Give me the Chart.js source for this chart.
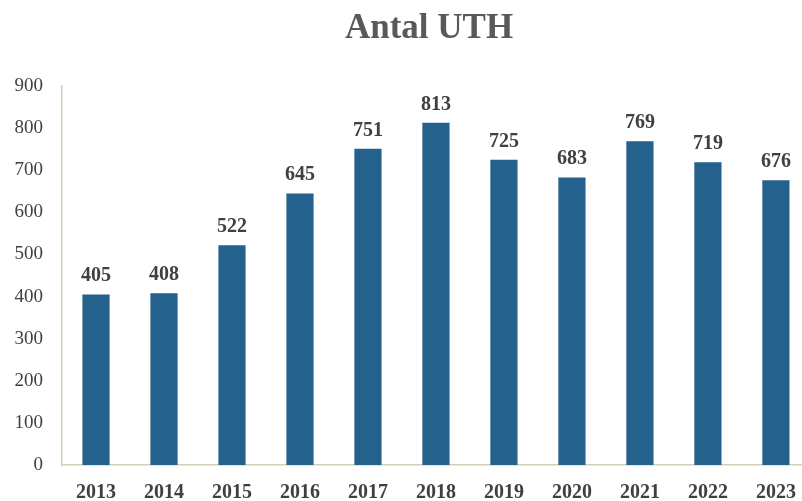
<!DOCTYPE html>
<html><head><meta charset="utf-8">
<script src="https://cdn.jsdelivr.net/npm/chart.js@4.4.0/dist/chart.umd.min.js"></script>
<style>html,body{margin:0;padding:0;overflow:hidden;background:#fff;width:802px;height:501px}#wrap{width:812px;height:501px}</style>
</head><body><div id="wrap"><canvas id="c" width="812" height="501"></canvas></div>
<script>
const categories = ["2013","2014","2015","2016","2017","2018","2019","2020","2021","2022","2023"];
const values = [405,408,522,645,751,813,725,683,769,719,676];
const yTicks = [0,100,200,300,400,500,600,700,800,900];
const titleText = "Antal UTH";

const labelPlugin = {
  id: 'labels',
  afterDatasetsDraw(chart) {
    const ctx = chart.ctx;
    const meta = chart.getDatasetMeta(0);
    ctx.save();
    ctx.font = 'bold 20px "Liberation Serif", serif';
    ctx.fillStyle = '#404040';
    ctx.textAlign = 'center';
    ctx.textBaseline = 'alphabetic';
    meta.data.forEach((bar, i) => {
      ctx.fillText(String(values[i]), bar.x, bar.y - 13);
    });
    ctx.restore();
  },
  afterDraw(chart) {
    const ctx = chart.ctx;
    ctx.save();
    ctx.font = 'bold 35px "Liberation Serif", serif';
    ctx.fillStyle = '#595959';
    ctx.textAlign = 'center';
    ctx.textBaseline = 'alphabetic';
    ctx.fillText(titleText, 429, 38);
    ctx.restore();
  }
};

new Chart(document.getElementById('c'), {
  type: 'bar',
  data: { labels: categories, datasets: [{ data: values, backgroundColor: '#24618C', borderWidth: 0, barPercentage: 0.8, categoryPercentage: 0.5 }] },
  options: {
    responsive: false, animation: false,
    layout: { padding: { left: 10, top: 86, right: 2, bottom: 0 } },
    plugins: { legend: { display: false }, tooltip: { enabled: false } },
    scales: {
      x: {
        afterFit(scale) { scale.height = 36; },
        grid: { display: false, drawTicks: false },
        border: { display: true, color: '#D6CFB6', width: 1.5 },
        ticks: { font: { family: '"Liberation Serif", serif', size: 20, weight: 'bold' }, color: '#404040', padding: 16, maxRotation: 0 }
      },
      y: {
        min: 0, max: 900,
        afterBuildTicks(scale) { scale.ticks = yTicks.map(v => ({ value: v })); },
        afterFit(scale) { scale.width = 52; },
        grid: { display: false, drawTicks: false },
        border: { display: true, color: '#D6CFB6', width: 1.5 },
        ticks: { font: { family: '"Liberation Serif", serif', size: 19 }, color: '#404040', padding: 19 }
      }
    }
  },
  plugins: [labelPlugin]
});
</script></body></html>
